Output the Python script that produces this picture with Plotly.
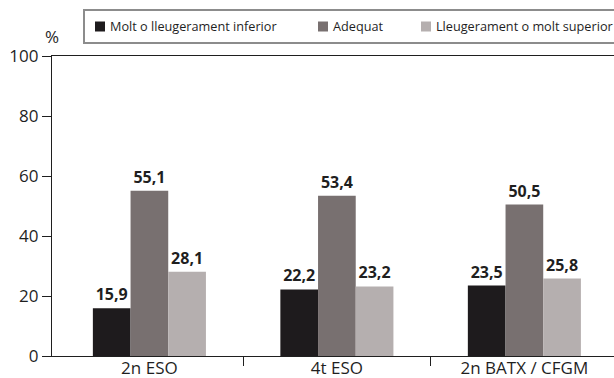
import plotly.graph_objects as go

# Categories and series
categories = ["2n ESO", "4t ESO", "2n BATX / CFGM"]
series_names = ["Molt o lleugerament inferior", "Adequat", "Lleugerament o molt superior"]
inferior = [15.9, 22.2, 23.5]
adequat = [55.1, 53.4, 50.5]
superior = [28.1, 23.2, 25.8]
y_ticks = [0, 20, 40, 60, 80, 100]

colors = ["#1e1b1d", "#787070", "#b5afaf"]
FONT = "Open Sans"
INK = "#1f1f1f"

W, H = 614, 378
L, R, T, B = 52, 0, 56, 22

xpos = list(range(len(categories)))
fig = go.Figure()
for name, vals, col in zip(series_names, [inferior, adequat, superior], colors):
    fig.add_trace(go.Bar(
        x=xpos, y=vals, name=name, marker=dict(color=col, line=dict(width=0)),
        text=[f"{v:.1f}".replace(".", ",") for v in vals],
        textposition="outside", cliponaxis=False,
        textfont=dict(family=FONT, size=16, color=INK, weight="bold"),
        showlegend=False,
    ))

# each category spans 187.5 px; the last one runs past the right edge
x_left, x_right = -0.5195, 2.478

fig.update_layout(
    width=W, height=H,
    margin=dict(l=L, r=R, t=T, b=B, pad=0, autoexpand=False),
    paper_bgcolor="white", plot_bgcolor="white",
    barmode="group", bargap=0.397, bargroupgap=0,
    font=dict(family=FONT, size=17, color=INK),
    xaxis=dict(
        range=[x_left, x_right], tickvals=[0.5, 1.5], ticktext=["", ""],
        ticks="outside", ticklen=9, tickcolor=INK, tickwidth=1.2,
        showline=True, linecolor=INK, linewidth=1.3, mirror=True,
        showgrid=False, zeroline=False, automargin=False,
    ),
    xaxis2=dict(
        range=[x_left, x_right], overlaying="x", side="bottom",
        tickvals=xpos, ticktext=categories, ticks="", showline=False,
        automargin=False,
        showgrid=False, zeroline=False, tickfont=dict(size=17, color=INK),
    ),
    yaxis=dict(
        range=[0, 100], tickvals=y_ticks, ticks="outside", ticklen=9,
        tickcolor=INK, tickwidth=1.2, showline=True, linecolor=INK, linewidth=1.3,
        showgrid=False, zeroline=False, tickfont=dict(size=17, color=INK),
        automargin=False,
    ),
)
# invisible trace to activate the label axis
fig.add_trace(go.Scatter(x=[0], y=[0], xaxis="x2", mode="markers",
                         marker=dict(opacity=0), showlegend=False, hoverinfo="skip"))


def px(x):
    return (x - L) / (W - L - R)


def py(y):
    return (H - B - y) / (H - T - B)


# "%" unit label
fig.add_annotation(text="%", xref="paper", yref="paper", x=px(52), y=py(36),
                   showarrow=False, xanchor="center", yanchor="middle",
                   font=dict(size=17, color=INK))

# Legend box with swatches
fig.add_shape(type="rect", xref="paper", yref="paper",
              x0=px(84), x1=px(640), y0=py(43), y1=py(10),
              line=dict(color="#8c8c8c", width=2), fillcolor="white")
legend_x = [95, 318, 421]
for name, col, lx in zip(series_names, colors, legend_x):
    fig.add_shape(type="rect", xref="paper", yref="paper",
                  x0=px(lx), x1=px(lx + 10), y0=py(31.5), y1=py(21.5),
                  line=dict(width=0), fillcolor=col)
    fig.add_annotation(text=name, xref="paper", yref="paper",
                       x=px(lx + 13), y=py(26.5), showarrow=False,
                       xanchor="left", yanchor="middle",
                       font=dict(size=12.7, color=INK))

fig.write_html("out.html")
